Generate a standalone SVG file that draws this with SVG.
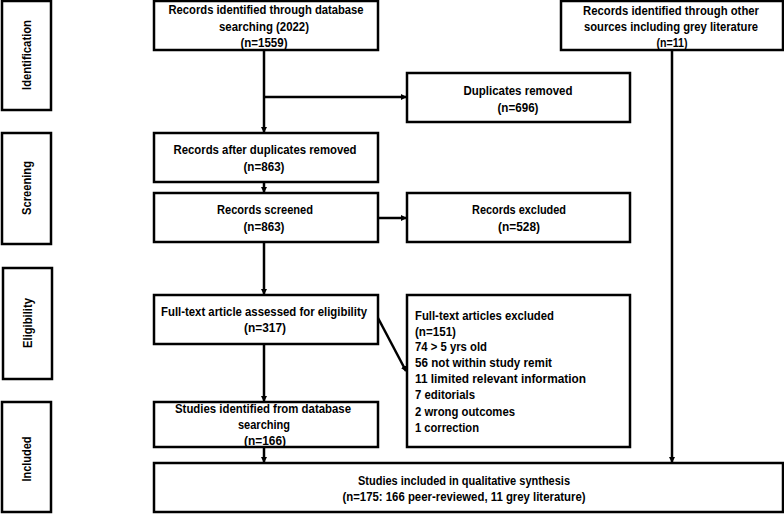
<svg xmlns="http://www.w3.org/2000/svg" width="784" height="514" viewBox="0 0 784 514">
<style>
rect{fill:#fff;stroke:#000;stroke-width:2.5}
text{font-family:"Liberation Sans",Arial,sans-serif;font-weight:bold;font-size:12px;fill:#000}
.c{text-anchor:middle}
.l{text-anchor:start}
.cn line,.cn polyline{stroke:#000;stroke-width:2.5;fill:none}
</style>
<defs>
<marker id="ah" markerWidth="6" markerHeight="6" refX="5" refY="3" orient="auto" markerUnits="userSpaceOnUse">
<path d="M0,0 L6,3 L0,6 z" fill="#000"/>
</marker>
</defs>
<g id="stage-identification"><rect x="2" y="1" width="49" height="109"/><text class="c" transform="translate(31,55) rotate(-90)" textLength="70" lengthAdjust="spacingAndGlyphs">Identification</text></g>
<g id="stage-screening"><rect x="2" y="133" width="49" height="111"/><text class="c" transform="translate(31,188) rotate(-90)" textLength="54" lengthAdjust="spacingAndGlyphs">Screening</text></g>
<g id="stage-eligibility"><rect x="3" y="268" width="49" height="111"/><text class="c" transform="translate(32,323) rotate(-90)" textLength="50" lengthAdjust="spacingAndGlyphs">Eligibility</text></g>
<g id="stage-included"><rect x="2" y="402" width="49" height="110"/><text class="c" transform="translate(31,459) rotate(-90)" textLength="45" lengthAdjust="spacingAndGlyphs">Included</text></g>

<g class="cn" id="connectors">
<line x1="264" y1="50" x2="264" y2="132" marker-end="url(#ah)"/>
<line x1="264" y1="97" x2="406" y2="97" marker-end="url(#ah)"/>
<line x1="672" y1="50" x2="672" y2="462" marker-end="url(#ah)"/>
<line x1="264" y1="182" x2="264" y2="192" marker-end="url(#ah)"/>
<line x1="378" y1="218" x2="406" y2="218" marker-end="url(#ah)"/>
<line x1="264" y1="242" x2="264" y2="294" marker-end="url(#ah)"/>
<line x1="378" y1="318" x2="406" y2="371" marker-end="url(#ah)"/>
<line x1="264" y1="344" x2="264" y2="401" marker-end="url(#ah)"/>
<line x1="264" y1="447" x2="264" y2="462" marker-end="url(#ah)"/>
</g>

<g id="n1"><rect x="154" y="1" width="224" height="49"/>
<text class="c" x="266" y="13.5" textLength="195" lengthAdjust="spacingAndGlyphs">Records identified through database</text>
<text class="c" x="264" y="30.5" textLength="90" lengthAdjust="spacingAndGlyphs">searching (2022)</text>
<text class="c" x="264" y="46.5" textLength="47" lengthAdjust="spacingAndGlyphs">(n=1559)</text></g>

<g id="n2"><rect x="561" y="1" width="222" height="49"/>
<text class="c" x="671" y="14.5" textLength="176" lengthAdjust="spacingAndGlyphs">Records identified through other</text>
<text class="c" x="671" y="31" textLength="174" lengthAdjust="spacingAndGlyphs">sources including grey literature</text>
<text class="c" x="672" y="47" textLength="31" lengthAdjust="spacingAndGlyphs">(n=11)</text></g>

<g id="n3"><rect x="407" y="73" width="223" height="49"/>
<text class="c" x="518" y="94.5" textLength="109" lengthAdjust="spacingAndGlyphs">Duplicates removed</text>
<text class="c" x="518" y="111.5" textLength="41" lengthAdjust="spacingAndGlyphs">(n=696)</text></g>

<g id="n4"><rect x="154" y="133" width="224" height="49"/>
<text class="c" x="265" y="154" textLength="183" lengthAdjust="spacingAndGlyphs">Records after duplicates removed</text>
<text class="c" x="264" y="171" textLength="41" lengthAdjust="spacingAndGlyphs">(n=863)</text></g>

<g id="n5"><rect x="154" y="193" width="224" height="49"/>
<text class="c" x="265" y="214" textLength="96" lengthAdjust="spacingAndGlyphs">Records screened</text>
<text class="c" x="264" y="231" textLength="41" lengthAdjust="spacingAndGlyphs">(n=863)</text></g>

<g id="n6"><rect x="407" y="193" width="223" height="49"/>
<text class="c" x="519" y="214" textLength="94" lengthAdjust="spacingAndGlyphs">Records excluded</text>
<text class="c" x="519" y="231" textLength="42" lengthAdjust="spacingAndGlyphs">(n=528)</text></g>

<g id="n7"><rect x="154" y="295" width="224" height="49"/>
<text class="c" x="264" y="316" textLength="206" lengthAdjust="spacingAndGlyphs">Full-text article assessed for eligibility</text>
<text class="c" x="265" y="332" textLength="42" lengthAdjust="spacingAndGlyphs">(n=317)</text></g>

<g id="n8"><rect x="407" y="295" width="223" height="152"/>
<text class="l" x="415" y="320" textLength="139" lengthAdjust="spacingAndGlyphs">Full-text articles excluded</text>
<text class="l" x="415" y="336" textLength="41" lengthAdjust="spacingAndGlyphs">(n=151)</text>
<text class="l" x="415" y="351" textLength="72" lengthAdjust="spacingAndGlyphs">74 &gt; 5 yrs old</text>
<text class="l" x="415" y="367" textLength="137" lengthAdjust="spacingAndGlyphs">56 not within study remit</text>
<text class="l" x="415" y="383" textLength="171" lengthAdjust="spacingAndGlyphs">11 limited relevant information</text>
<text class="l" x="415" y="399" textLength="60" lengthAdjust="spacingAndGlyphs">7 editorials</text>
<text class="l" x="415" y="416" textLength="100" lengthAdjust="spacingAndGlyphs">2 wrong outcomes</text>
<text class="l" x="415" y="432" textLength="64" lengthAdjust="spacingAndGlyphs">1 correction</text></g>

<g id="n9"><rect x="154" y="402" width="224" height="45"/>
<text class="c" x="263" y="413" textLength="176" lengthAdjust="spacingAndGlyphs">Studies identified from database</text>
<text class="c" x="264" y="429" textLength="52" lengthAdjust="spacingAndGlyphs">searching</text>
<text class="c" x="265" y="445" textLength="42" lengthAdjust="spacingAndGlyphs">(n=166)</text></g>

<g id="n10"><rect x="154" y="463" width="629" height="49"/>
<text class="c" x="464" y="485" textLength="212" lengthAdjust="spacingAndGlyphs">Studies included in qualitative synthesis</text>
<text class="c" x="464" y="501" textLength="243" lengthAdjust="spacingAndGlyphs">(n=175: 166 peer-reviewed, 11 grey literature)</text></g>
</svg>
